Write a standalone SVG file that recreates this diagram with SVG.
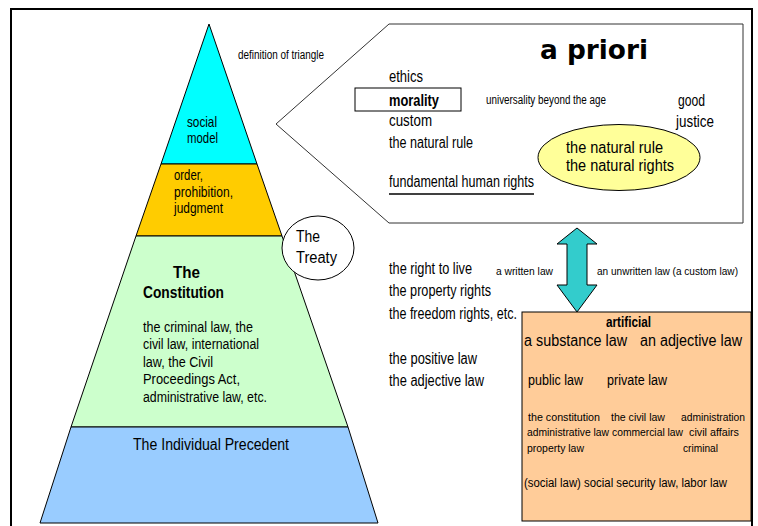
<svg xmlns="http://www.w3.org/2000/svg" width="758" height="526" viewBox="0 0 758 526">
  <style>
    text { font-family: "Liberation Sans", Arial, sans-serif; fill: #000; }
    .t16 { font-size: 16px; }
    .t15 { font-size: 15px; }
    .t14 { font-size: 14px; }
    .t12 { font-size: 12px; }
    .t11 { font-size: 10.5px; }
    .b { font-weight: bold; }
    .line { stroke: #000; stroke-width: 1; }
  </style>

  <!-- outer frame -->
  <rect x="11" y="9" width="741" height="540" fill="#fff" stroke="#000" stroke-width="2"/>

  <!-- pyramid layers -->
  <g id="layer-social-model">
    <polygon points="209,24 161,164 257,164" fill="#00FFFF" class="line"/>
    <text class="t15" x="187" y="127" textLength="30" lengthAdjust="spacingAndGlyphs">social</text>
    <text class="t15" x="187" y="143" textLength="31" lengthAdjust="spacingAndGlyphs">model</text>
  </g>
  <g id="layer-order">
    <polygon points="161,164 257,164 282,236 136,236" fill="#FFCC00" class="line"/>
    <text class="t14" x="174" y="180" textLength="29" lengthAdjust="spacingAndGlyphs">order,</text>
    <text class="t14" x="174" y="197" textLength="59" lengthAdjust="spacingAndGlyphs">prohibition,</text>
    <text class="t14" x="174" y="213" textLength="49" lengthAdjust="spacingAndGlyphs">judgment</text>
  </g>
  <g id="layer-constitution">
    <polygon points="136,236 282,236 348,427 71,427" fill="#CCFFCC" class="line"/>
    <text class="t16 b" x="173" y="278" textLength="27" lengthAdjust="spacingAndGlyphs">The</text>
    <text class="t16 b" x="143" y="298" textLength="81" lengthAdjust="spacingAndGlyphs">Constitution</text>
    <text class="t14" x="143" y="332" textLength="110" lengthAdjust="spacingAndGlyphs">the criminal law, the</text>
    <text class="t14" x="143" y="349" textLength="116" lengthAdjust="spacingAndGlyphs">civil law, international</text>
    <text class="t14" x="143" y="367" textLength="70" lengthAdjust="spacingAndGlyphs">law, the Civil</text>
    <text class="t14" x="143" y="384" textLength="97" lengthAdjust="spacingAndGlyphs">Proceedings Act,</text>
    <text class="t14" x="143" y="402" textLength="124" lengthAdjust="spacingAndGlyphs">administrative law, etc.</text>
  </g>
  <g id="layer-precedent">
    <polygon points="71,427 348,427 378,523 40,523" fill="#99CCFF" class="line"/>
    <text class="t16" x="133" y="450" textLength="156" lengthAdjust="spacingAndGlyphs">The Individual Precedent</text>
  </g>

  <g id="label-definition">
    <text class="t12" x="238" y="59" textLength="86" lengthAdjust="spacingAndGlyphs">definition of triangle</text>
  </g>

  <g id="treaty">
    <ellipse cx="318" cy="248" rx="36" ry="32" fill="#fff" class="line"/>
    <text class="t16" x="296" y="242" textLength="24" lengthAdjust="spacingAndGlyphs">The</text>
    <text class="t16" x="296" y="263" textLength="41" lengthAdjust="spacingAndGlyphs">Treaty</text>
  </g>

  <!-- a priori callout -->
  <g id="a-priori">
    <polygon points="276,124 389,24 743,24 743,223 389,223" fill="#fff" stroke="#333" stroke-width="1"/>
    <text x="540" y="59" font-size="27" font-weight="bold" textLength="108" lengthAdjust="spacingAndGlyphs" style="font-family:'DejaVu Sans',sans-serif">a priori</text>
    <text class="t16" x="389" y="82" textLength="34" lengthAdjust="spacingAndGlyphs">ethics</text>
    <rect x="355" y="88" width="106" height="23" fill="none" class="line"/>
    <text class="t16 b" x="389" y="106" textLength="50" lengthAdjust="spacingAndGlyphs">morality</text>
    <text class="t16" x="389" y="126" textLength="43" lengthAdjust="spacingAndGlyphs">custom</text>
    <text class="t16" x="389" y="148" textLength="84" lengthAdjust="spacingAndGlyphs">the natural rule</text>
    <text class="t16" x="389" y="187" textLength="145" lengthAdjust="spacingAndGlyphs">fundamental human rights</text>
    <line x1="389" y1="194" x2="534" y2="194" stroke="#000" stroke-width="1.5"/>
    <text class="t12" x="486" y="104" textLength="120" lengthAdjust="spacingAndGlyphs">universality beyond the age</text>
    <text class="t16" x="678" y="106" textLength="27" lengthAdjust="spacingAndGlyphs">good</text>
    <text class="t16" x="676" y="127" textLength="38" lengthAdjust="spacingAndGlyphs">justice</text>
  </g>

  <g id="natural-rights">
    <ellipse cx="619" cy="157.5" rx="81" ry="33" fill="#FFFF99" class="line"/>
    <text class="t16" x="566" y="153" textLength="97" lengthAdjust="spacingAndGlyphs">the natural rule</text>
    <text class="t16" x="566" y="171" textLength="108" lengthAdjust="spacingAndGlyphs">the natural rights</text>
  </g>

  <!-- rights and law kinds between the panels -->
  <g id="rights-list">
    <text class="t16" x="389" y="274" textLength="83" lengthAdjust="spacingAndGlyphs">the right to live</text>
    <text class="t16" x="389" y="296" textLength="102" lengthAdjust="spacingAndGlyphs">the property rights</text>
    <text class="t16" x="389" y="319" textLength="128" lengthAdjust="spacingAndGlyphs">the freedom rights, etc.</text>
    <text class="t16" x="389" y="364" textLength="88" lengthAdjust="spacingAndGlyphs">the positive law</text>
    <text class="t16" x="389" y="386" textLength="95" lengthAdjust="spacingAndGlyphs">the adjective law</text>
  </g>
  <g id="law-forms">
    <text class="t11" x="496" y="275" textLength="57" lengthAdjust="spacingAndGlyphs">a written law</text>
    <text class="t11" x="597" y="275" textLength="141" lengthAdjust="spacingAndGlyphs">an unwritten law (a custom law)</text>
  </g>

  <!-- artificial law box -->
  <g id="artificial">
    <rect x="522" y="312" width="229" height="209" fill="#FFCC99" class="line"/>
    <text class="t15 b" x="606" y="327" textLength="45" lengthAdjust="spacingAndGlyphs">artificial</text>
    <text class="t16" x="524" y="346" textLength="103" lengthAdjust="spacingAndGlyphs">a substance law</text>
    <text class="t16" x="640" y="346" textLength="102" lengthAdjust="spacingAndGlyphs">an adjective law</text>
    <text class="t14" x="528" y="385" textLength="55" lengthAdjust="spacingAndGlyphs">public law</text>
    <text class="t14" x="607" y="385" textLength="60" lengthAdjust="spacingAndGlyphs">private law</text>
    <text class="t11" x="528" y="421" textLength="72" lengthAdjust="spacingAndGlyphs">the constitution</text>
    <text class="t11" x="611" y="421" textLength="54" lengthAdjust="spacingAndGlyphs">the civil law</text>
    <text class="t11" x="681" y="421" textLength="64" lengthAdjust="spacingAndGlyphs">administration</text>
    <text class="t11" x="527" y="436" textLength="82" lengthAdjust="spacingAndGlyphs">administrative law</text>
    <text class="t11" x="612" y="436" textLength="71" lengthAdjust="spacingAndGlyphs">commercial law</text>
    <text class="t11" x="689" y="436" textLength="50" lengthAdjust="spacingAndGlyphs">civil affairs</text>
    <text class="t11" x="527" y="452" textLength="57" lengthAdjust="spacingAndGlyphs">property law</text>
    <text class="t11" x="683" y="452" textLength="35" lengthAdjust="spacingAndGlyphs">criminal</text>
    <text class="t12" x="524" y="487" textLength="203" lengthAdjust="spacingAndGlyphs">(social law) social security law, labor law</text>
  </g>

  <!-- connectors -->
  <g id="connectors">
    <polygon points="577,228 597,244 587,244 587,285 597,285 577,312 557,285 567,285 567,244 557,244" fill="#33CCCC" stroke="#000" stroke-width="1"/>
  </g>
</svg>
